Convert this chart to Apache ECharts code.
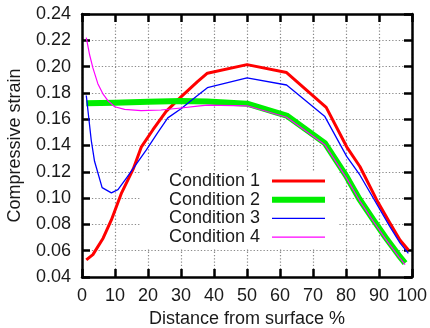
<!DOCTYPE html>
<html>
<head>
<meta charset="utf-8">
<script src="https://cdn.jsdelivr.net/npm/echarts@6/dist/echarts.min.js"></script>
<style>
  html, body { margin: 0; padding: 0; background: #fff; }
  #chart { width: 430px; height: 328px; }
</style>
</head>
<body>
<div id="chart"></div>
<script>
// Compressive strain profiles through the thickness: [distance %, strain]
const condition1 = [
  [1.3, 0.053], [3.3, 0.057], [6.4, 0.0695], [8.9, 0.0834], [12, 0.104],
  [15.5, 0.122], [18, 0.139], [21.5, 0.152], [25.5, 0.166], [30, 0.177],
  [35, 0.1886], [38, 0.195], [50, 0.2015], [62, 0.1955], [74, 0.169],
  [80.2, 0.139], [84.2, 0.124], [89.3, 0.0986], [93.3, 0.081], [96.4, 0.068],
  [98.9, 0.0605]
];
const condition2 = [
  [1.3, 0.1722], [10, 0.1726], [20, 0.1732], [30, 0.1738], [38, 0.1735],
  [50, 0.1718], [62, 0.1628], [73.6, 0.1418], [80.2, 0.1163], [84, 0.0995],
  [88.3, 0.0834], [92, 0.070], [96, 0.0565], [97.9, 0.0505]
];
const condition3 = [
  [1.3, 0.178], [2.8, 0.144], [3.8, 0.128], [6.1, 0.108], [8.9, 0.104],
  [10.9, 0.1065], [13.4, 0.115], [16.5, 0.126], [19.5, 0.1366], [23, 0.150],
  [26, 0.161], [30, 0.168], [35, 0.178], [38, 0.184], [50, 0.1915],
  [62, 0.186], [73.6, 0.162], [80.2, 0.1317], [84.2, 0.1176], [93.3, 0.0783],
  [96.4, 0.0657], [98.9, 0.058]
];
const condition4 = [
  [1.3, 0.222], [2.3, 0.209], [3.3, 0.199], [4.8, 0.187], [6.4, 0.179],
  [7.9, 0.174], [9.9, 0.1695], [12.9, 0.1675], [17.9, 0.1665], [24, 0.167],
  [30, 0.1685], [35, 0.170], [38, 0.1707], [50, 0.1702], [62, 0.1615],
  [73.6, 0.1405], [80.2, 0.1150], [84, 0.0985], [88.3, 0.0822], [92, 0.0688],
  [96, 0.0553], [97.9, 0.0495]
];
const seriesNames = ['Condition 1', 'Condition 2', 'Condition 3', 'Condition 4'];
const xTicks = { min: 0, max: 100, step: 10 };
const yTicks = { min: 0.04, max: 0.24, step: 0.02 };

const FONT = 'Liberation Sans';
const TEXT = '#1a1a1a';

// colour and stroke width per condition
const styles = [
  { color: '#ff0000', width: 3 },
  { color: '#00ee00', width: 6 },
  { color: '#0000ff', width: 1.3 },
  { color: '#ff00ff', width: 1.2 }
];
const seriesData = [condition1, condition2, condition3, condition4];

const frameAxis = {
  axisLine: { show: true, onZero: false, lineStyle: { color: '#000', width: 2.5 } },
  axisTick: { show: true, inside: true, length: 8, lineStyle: { color: '#000', width: 2.5 } }
};
const gridDots = { show: true, lineStyle: { color: '#8a8a8a', width: 1.2, type: [1.3, 2] } };

const chart = echarts.init(document.getElementById('chart'), null, { renderer: 'canvas' });

chart.setOption({
  animation: false,
  backgroundColor: '#fff',
  grid: { left: 82, right: 18, top: 14, bottom: 51, containLabel: false, outerBoundsMode: 'none' },
  xAxis: [
    {
      type: 'value', min: xTicks.min, max: xTicks.max, interval: xTicks.step,
      position: 'bottom',
      name: 'Distance from surface %', nameLocation: 'middle', nameGap: 33,
      nameTextStyle: { fontFamily: FONT, fontSize: 18, color: TEXT },
      axisLabel: { fontFamily: FONT, fontSize: 18, color: TEXT, margin: 10 },
      splitLine: gridDots,
      ...frameAxis
    },
    {
      type: 'value', min: xTicks.min, max: xTicks.max, interval: xTicks.step,
      position: 'top', axisLabel: { show: false }, splitLine: { show: false },
      ...frameAxis
    }
  ],
  yAxis: [
    {
      type: 'value', min: yTicks.min, max: yTicks.max, interval: yTicks.step,
      position: 'left',
      name: 'Compressive strain', nameLocation: 'middle', nameGap: 58,
      nameTextStyle: { fontFamily: FONT, fontSize: 18, color: TEXT },
      axisLabel: {
        fontFamily: FONT, fontSize: 18, color: TEXT, margin: 11,
        formatter: v => v.toFixed(2)
      },
      splitLine: gridDots,
      ...frameAxis
    },
    {
      type: 'value', min: yTicks.min, max: yTicks.max, interval: yTicks.step,
      position: 'right', axisLabel: { show: false }, splitLine: { show: false },
      ...frameAxis
    }
  ],
  legend: {
    data: seriesNames.map((name, i) => ({
      name,
      lineStyle: { color: styles[i].color, width: styles[i].width, cap: 'butt' }
    })),
    orient: 'vertical',
    align: 'right',
    right: 92,
    top: 172,
    padding: [0, 10, 3, 29],
    itemWidth: 53,
    itemHeight: 18,
    itemGap: 0.7,
    backgroundColor: '#fff',
    borderWidth: 0,
    selectedMode: false,
    itemStyle: { opacity: 0 },
    textStyle: { fontFamily: FONT, fontSize: 18, color: TEXT, padding: [0, 7, 0, 0] }
  },
  series: seriesNames.map((name, i) => ({
    name, type: 'line', data: seriesData[i],
    symbol: 'none', smooth: false, z: 2,
    lineStyle: { color: styles[i].color, width: styles[i].width, cap: 'butt', join: 'round' },
    itemStyle: { color: styles[i].color },
    emphasis: { disabled: true }
  }))
});
</script>
</body>
</html>
